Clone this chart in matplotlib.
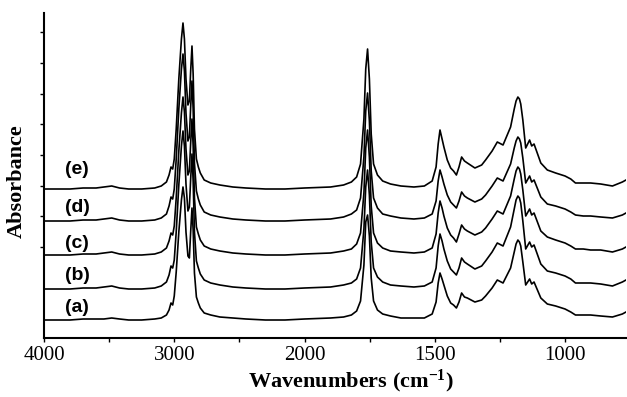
import numpy as np
import matplotlib
matplotlib.use("Agg")
import matplotlib.pyplot as plt
from matplotlib.ticker import FixedLocator, NullFormatter

plt.rcParams["font.family"] = "Liberation Serif"
plt.rcParams["mathtext.fontset"] = "custom"
plt.rcParams["mathtext.rm"] = "Liberation Serif:bold"
plt.rcParams["mathtext.it"] = "Liberation Serif:italic:bold"
plt.rcParams["mathtext.bf"] = "Liberation Serif:bold"

# wavenumber grid (cm-1)
wavenumber = [4000, 3900, 3800, 3700, 3600, 3540, 3480, 3420, 3350, 3250,
              3150, 3100, 3060, 3040, 3025, 3012, 3000, 2985, 2965, 2945, 2933,
              2922, 2910, 2895, 2884, 2874, 2864, 2855, 2845, 2830, 2815, 2800,
              2770, 2720, 2650, 2550, 2450, 2300, 2150, 2000, 1900, 1850, 1820, 1800,
              1785, 1772, 1765, 1758, 1751, 1744, 1735, 1720, 1700, 1670, 1630, 1580,
              1540, 1510, 1495, 1487, 1480, 1472, 1465, 1452, 1439, 1428, 1417, 1407, 1397,
              1386, 1375, 1346, 1320, 1305, 1280, 1260, 1238, 1209, 1195, 1188, 1181, 1175,
              1170, 1162, 1151,
              1136, 1128, 1119, 1093, 1068, 1036, 1000, 978, 960, 930, 902, 863, 818, 780, 766]

# absorbance (arb. units), each above its own baseline
spec_a = [0, 0, 0, 1, 1, 1, 2, 1, 0, 0,
          1, 2, 5, 10, 17, 15, 24, 48, 88, 120, 133,
          122, 88, 64, 62, 88, 112, 90, 47, 23, 17, 12,
          7, 5, 3, 2, 1, 0, 0, 1, 2, 3, 5, 9,
          19, 55, 98, 105, 84, 42, 19, 10, 6, 4, 2, 2,
          2, 6, 18, 37, 47, 41, 35, 24, 17, 15, 12, 18, 27,
          23, 22, 18, 20, 24, 32, 40, 37, 52, 68, 76, 80, 78,
          74, 58, 35,
          41, 36, 38, 22, 16, 14, 11, 8, 5, 5, 5, 4, 3, 6, 8]
spec_b = [0, 0, 0, 1, 1, 2, 3, 1, 0, 0,
          1, 3, 7, 14, 23, 21, 29, 57, 104, 143, 158,
          143, 105, 78, 82, 110, 135, 108, 57, 28, 21, 15,
          9, 6, 4, 2, 1, 0, 0, 1, 2, 4, 6, 10,
          21, 60, 102, 119, 94, 47, 21, 12, 7, 4, 3, 2,
          3, 7, 21, 43, 55, 48, 40, 28, 20, 17, 14, 21, 31,
          27, 25, 20, 23, 28, 37, 46, 43, 62, 80, 89, 93, 91,
          86, 68, 40,
          47, 42, 44, 25, 18, 16, 13, 10, 6, 6, 6, 5, 3, 7, 9]
spec_c = [0, 0, 0, 1, 1, 2, 3, 1, 0, 0,
          1, 3, 7, 14, 22, 20, 29, 57, 104, 142, 158,
          143, 106, 80, 84, 112, 136, 109, 57, 28, 21, 15,
          9, 6, 4, 2, 1, 0, 0, 1, 2, 4, 6, 11,
          22, 62, 107, 125, 98, 49, 22, 12, 7, 4, 3, 2,
          3, 7, 21, 42, 54, 47, 39, 27, 20, 17, 13, 21, 30,
          26, 24, 20, 23, 27, 36, 44, 41, 59, 76, 84, 88, 86,
          81, 65, 39,
          46, 40, 42, 24, 18, 15, 12, 9, 6, 6, 5, 5, 3, 6, 8]
spec_d = [0, 0, 0, 1, 1, 2, 3, 1, 0, 0,
          1, 3, 7, 15, 24, 22, 32, 62, 112, 152, 167,
          150, 108, 80, 84, 114, 140, 112, 58, 30, 22, 16,
          9, 6, 4, 2, 1, 0, 0, 1, 2, 4, 7, 11,
          23, 64, 110, 128, 100, 50, 23, 13, 7, 5, 3, 2,
          3, 7, 20, 40, 51, 44, 37, 26, 19, 16, 13, 20, 29,
          25, 23, 19, 22, 26, 35, 43, 40, 57, 73, 80, 84, 82,
          78, 63, 38,
          45, 39, 41, 24, 17, 15, 12, 9, 6, 5, 5, 4, 3, 6, 8]
spec_e = [0, 0, 0, 1, 1, 2, 3, 1, 0, 0,
          1, 3, 7, 14, 22, 20, 30, 60, 110, 150, 166,
          150, 110, 84, 88, 118, 143, 115, 60, 30, 22, 16,
          9, 6, 4, 2, 1, 0, 0, 1, 2, 4, 7, 12,
          25, 70, 120, 140, 110, 55, 25, 14, 8, 5, 3, 2,
          3, 8, 22, 45, 59, 50, 42, 29, 21, 18, 14, 22, 32,
          28, 26, 21, 24, 29, 38, 47, 44, 62, 80, 88, 92, 90,
          85, 69, 41,
          49, 43, 45, 26, 19, 16, 13, 10, 6, 6, 6, 5, 3, 7, 9]

spectra = [spec_a, spec_b, spec_c, spec_d, spec_e]
labels = ["(a)", "(b)", "(c)", "(d)", "(e)"]

# 縦方向のずらし量
offsets = [18, 49, 83, 117, 149]
label_y = [31, 63, 95, 131, 168]


# x軸: 2000 cm-1 で目盛り間隔が変わる
def fwd(w):
    w = np.asarray(w, dtype=float)
    return np.where(w >= 2000, 1000 + (w - 2000) / 2, w - 1000)


def inv(p):
    p = np.asarray(p, dtype=float)
    return np.where(p >= 1000, 2000 + 2 * (p - 1000), p + 1000)


fig = plt.figure(figsize=(6.27, 3.97), dpi=100)
ax = fig.add_axes([44 / 627, 59 / 397, 582 / 627, 325 / 397])
ax.set_xscale("function", functions=(fwd, inv))

for spec, off in zip(spectra, offsets):
    ax.plot(wavenumber, np.array(spec) + off, color="black", lw=1.2,
            solid_joinstyle="round")

for lab, y in zip(labels, label_y):
    ax.text(3745, y, lab, ha="center", va="center", fontsize=14,
            fontweight="bold", family="Liberation Sans")

ax.set_xlim(4000, 766)
ax.set_ylim(0, 325)

ax.xaxis.set_major_locator(FixedLocator([4000, 3000, 2000, 1500, 1000]))
ax.xaxis.set_minor_locator(FixedLocator([3500, 2500, 1750, 1250]))
ax.xaxis.set_major_formatter(plt.FuncFormatter(lambda v, p: "%d" % round(v)))
ax.xaxis.set_minor_formatter(NullFormatter())
ax.yaxis.set_major_locator(FixedLocator(np.arange(91, 310, 30.7)))
ax.yaxis.set_major_formatter(NullFormatter())

ax.tick_params(axis="both", which="both", direction="out", length=3, width=1)
ax.tick_params(axis="x", labelsize=15, pad=3)

ax.spines["top"].set_visible(False)
ax.spines["right"].set_visible(False)
ax.spines["left"].set_linewidth(1.5)
ax.spines["bottom"].set_linewidth(1.5)

fig.text(351 / 627, 1 - 381 / 397, r"Wavenumbers (cm$^{-1}$)", ha="center",
         va="center", fontsize=16, fontweight="bold")
fig.text(17 / 627, 1 - 181 / 397, "Absorbance", ha="center", va="center",
         rotation=90, fontsize=16, fontweight="bold")

fig.savefig("out.png", dpi=100)
